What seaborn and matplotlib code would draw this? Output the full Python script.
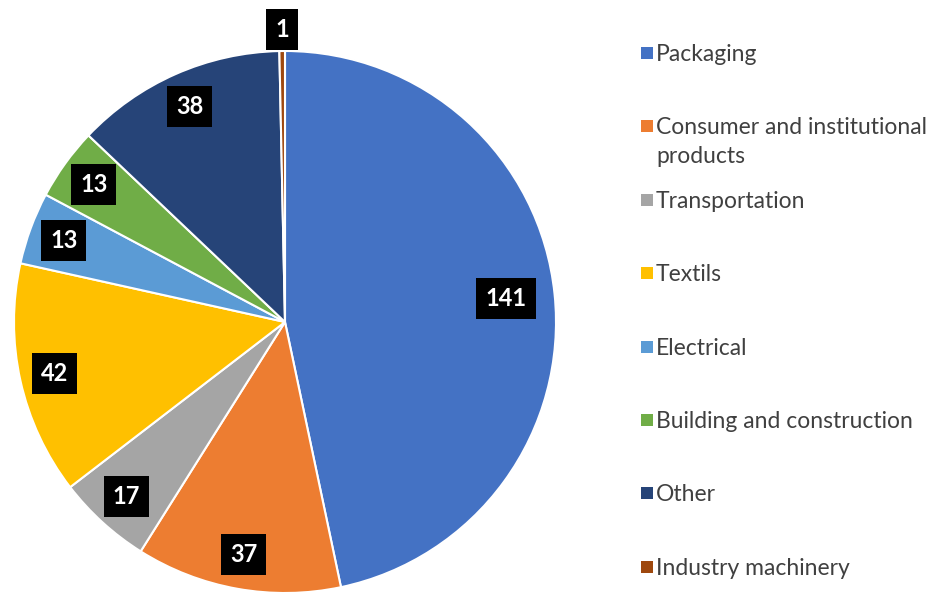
import matplotlib
matplotlib.use("Agg")
import matplotlib.pyplot as plt
from matplotlib.patches import Rectangle
import numpy as np
import seaborn as sns

categories = ["Packaging", "Consumer and institutional\nproducts", "Transportation",
              "Textils", "Electrical", "Building and construction", "Other",
              "Industry machinery"]
values = [141, 37, 17, 42, 13, 13, 38, 1]
colors = ["#4472C4", "#ED7D31", "#A5A5A5", "#FFC000", "#5B9BD5", "#70AD47",
          "#264478", "#9E480E"]

sns.set_theme(style="white")
plt.rcParams["font.family"] = ["Lato", "DejaVu Sans"]
palette = sns.color_palette(colors)

fig = plt.figure(figsize=(9.36, 5.93), dpi=100)
W, H = 936, 593
cx, cy, R = 285, 322, 271
ax = fig.add_axes([(cx - R) / W, (H - cy - R) / H, 2 * R / W, 2 * R / H])

wedges, _ = ax.pie(values, colors=palette, startangle=90, counterclock=False,
                   radius=1.0, wedgeprops=dict(edgecolor="white", linewidth=1.5))
ax.set_xlim(-1, 1)
ax.set_ylim(-1, 1)
ax.set_aspect("equal")
ax.axis("off")

# value labels: black boxes placed along each slice's mid-angle
total = sum(values)
for w, v in zip(wedges, values):
    mid = np.deg2rad((w.theta1 + w.theta2) / 2)
    frac = v / total
    if frac < 0.02:
        r = 1.08
    elif frac > 0.4:
        r = 0.82
    else:
        r = 0.87
    ax.text(r * np.cos(mid), r * np.sin(mid), str(v), ha="center", va="center",
            color="white", fontsize=17, fontweight="bold", clip_on=False,
            bbox=dict(boxstyle="square,pad=0.38", facecolor="black", edgecolor="none"))

# legend drawn as squares with labels, evenly spaced rows
x_sq, x_txt = 641, 656
y0, dy = 53, 73.4
for i, (lab, col) in enumerate(zip(categories, palette)):
    y = y0 + i * dy
    fig.add_artist(Rectangle((x_sq / W, 1 - (y + 6) / H), 12 / W, 12 / H,
                             transform=fig.transFigure, facecolor=col,
                             edgecolor="none"))
    fig.text(x_txt / W, 1 - (y - 9) / H, lab, ha="left", va="top",
             fontsize=16.5, color="#404040", linespacing=1.45)

fig.savefig("out.png", dpi=100, facecolor="white")
